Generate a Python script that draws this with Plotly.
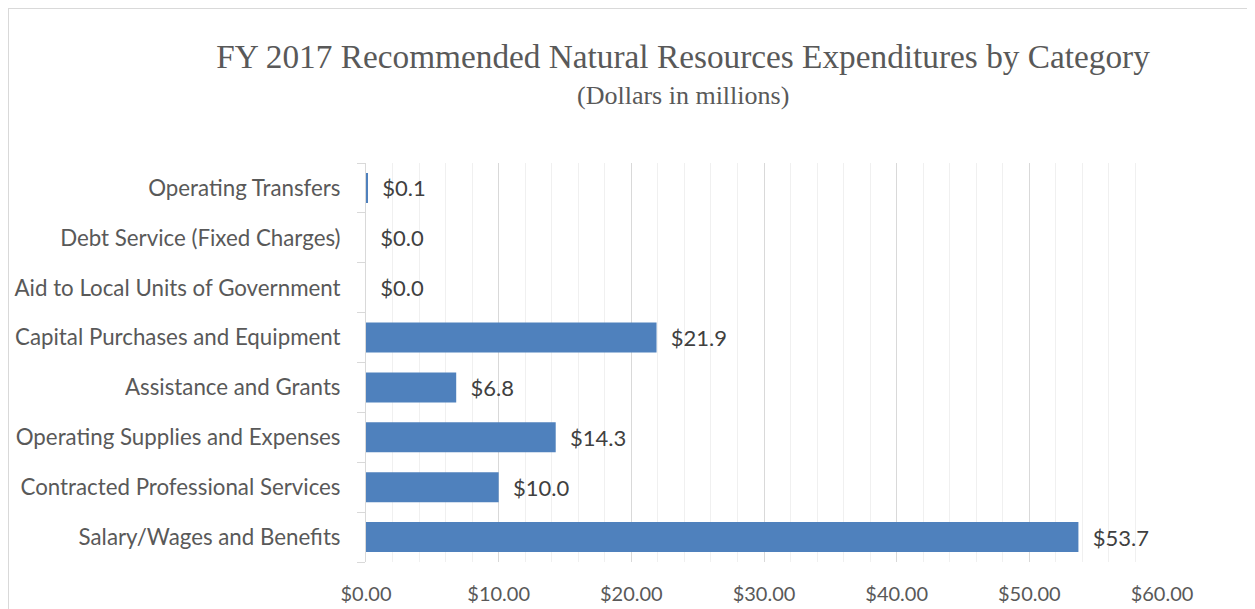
import plotly.graph_objects as go

categories = [
    "Salary/Wages and Benefits",
    "Contracted Professional Services",
    "Operating Supplies and Expenses",
    "Assistance and Grants",
    "Capital Purchases and Equipment",
    "Aid to Local Units of Government",
    "Debt Service (Fixed Charges)",
    "Operating Transfers",
]
values = [53.7, 10.0, 14.3, 6.8, 21.9, 0.0, 0.0, 0.1]
tick_vals = [0, 10, 20, 30, 40, 50, 60]
tick_text = ["$0.00", "$10.00", "$20.00", "$30.00", "$40.00", "$50.00", "$60.00"]

LABEL_FONT = "Lato, 'Open Sans', sans-serif"
SERIF = "'Liberation Serif', 'DejaVu Serif', serif"

# page has an 8px body margin; plot area in page coords: x 366..1162, y 163..562
L, T = 358, 155
PW, PH = 796, 399
W, H = 1255, 609

fig = go.Figure()
fig.add_trace(go.Bar(
    x=values,
    y=categories,
    orientation="h",
    marker=dict(color="#4f81bd", line=dict(width=0)),
    text=["\u00a0\u00a0" + f"${v:.1f}" for v in values],
    textposition="outside",
    textfont=dict(family=LABEL_FONT, size=22, color="#404040"),
    cliponaxis=False,
    hoverinfo="x+y",
))

fig.update_layout(
    width=W,
    height=H,
    margin=dict(l=L, r=W - L - PW, t=T, b=H - T - PH, autoexpand=False),
    paper_bgcolor="white",
    plot_bgcolor="white",
    bargap=0.4,
    showlegend=False,
    title=dict(
        text="FY 2017 Recommended Natural Resources Expenditures by Category",
        font=dict(family=SERIF, size=33.3, color="#595959"),
        x=675 / W, xanchor="center",
        y=1 - 48 / H, yanchor="middle", yref="container",
    ),
    annotations=[dict(
        text="(Dollars in millions)",
        font=dict(family=SERIF, size=26, color="#595959"),
        xref="paper", yref="paper",
        x=(675 - L) / PW, y=1 + (T - 87) / PH,
        xanchor="center", yanchor="middle", showarrow=False,
    )],
    xaxis=dict(
        range=[0, 60],
        tickvals=tick_vals,
        ticktext=tick_text,
        tickfont=dict(family=LABEL_FONT, size=20, color="#595959"),
        showgrid=True,
        gridcolor="#d9d9d9",
        gridwidth=1,
        minor=dict(dtick=2, showgrid=True, gridcolor="#f0f0f0", gridwidth=1),
        zeroline=False,
        showline=False,
        ticks="",
        ticklabelstandoff=18,
        automargin=False,
        fixedrange=True,
    ),
    yaxis=dict(
        categoryorder="array",
        categoryarray=categories,
        tickfont=dict(family=LABEL_FONT, size=22.3, color="#595959"),
        showline=True,
        linecolor="#d9d9d9",
        linewidth=1,
        ticks="outside",
        tickson="boundaries",
        ticklen=8,
        tickcolor="#d9d9d9",
        ticklabelstandoff=20,
        showgrid=False,
        automargin=False,
        fixedrange=True,
    ),
    shapes=[dict(
        type="rect", xref="paper", yref="paper",
        x0=(0 - L) / PW, x1=(W + 10 - L) / PW,
        y0=-(H + 10 - T - PH) / PH, y1=1 + (T - 0) / PH,
        line=dict(color="#d9d9d9", width=2), fillcolor="rgba(0,0,0,0)",
        layer="below",
    )],
)

fig.write_html("out.html")
